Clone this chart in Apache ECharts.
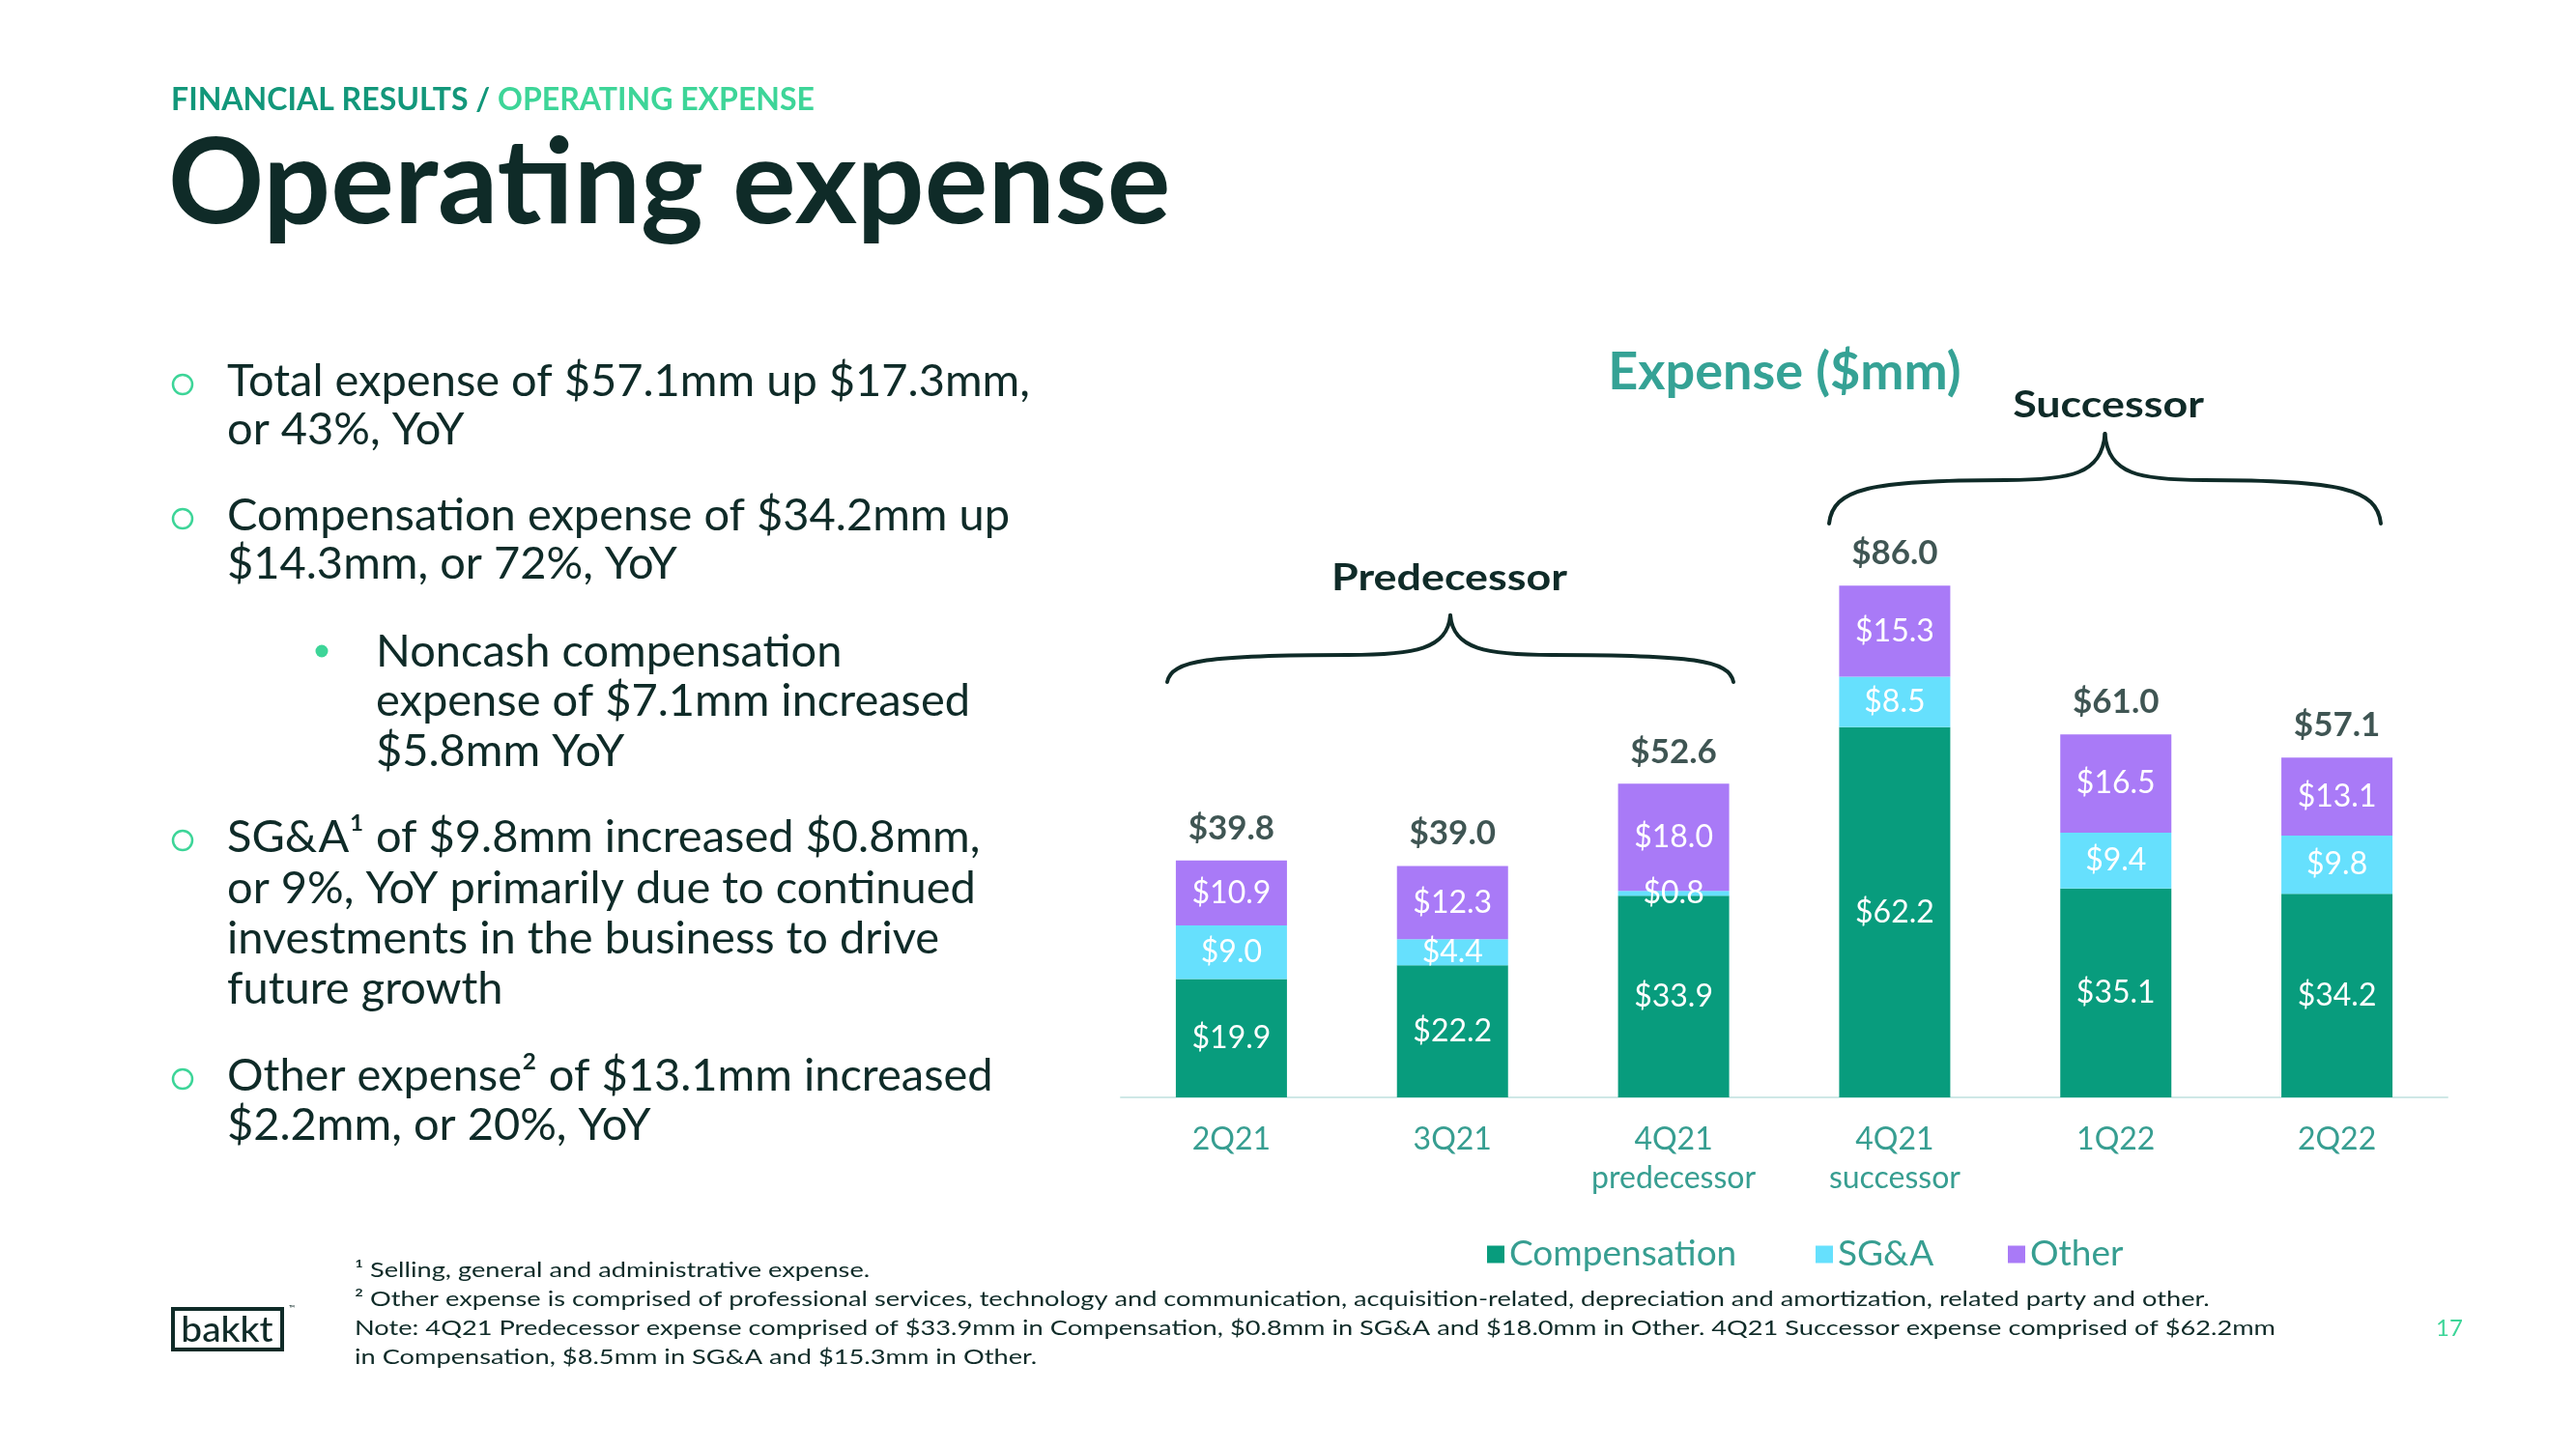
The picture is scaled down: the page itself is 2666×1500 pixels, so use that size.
<!DOCTYPE html>
<html><head><meta charset="utf-8">
<script src="https://cdn.jsdelivr.net/npm/echarts@6/dist/echarts.min.js"></script>
<style>html,body{margin:0;padding:0;background:#fff;}#c{width:2666px;height:1500px;}</style>
</head><body><div id="c"></div>
<script>
// ---- data ----
const categories = ["2Q21", "3Q21", "4Q21\npredecessor", "4Q21\nsuccessor", "1Q22", "2Q22"];
const compensation = [19.9, 22.2, 33.9, 62.2, 35.1, 34.2];
const sga = [9.0, 4.4, 0.8, 8.5, 9.4, 9.8];
const other = [10.9, 12.3, 18.0, 15.3, 16.5, 13.1];
const totals = [39.8, 39.0, 52.6, 86.0, 61.0, 57.1];
const seriesNames = ["Compensation", "SG&A", "Other"];

const breadcrumbA = "FINANCIAL RESULTS /";
const breadcrumbB = "OPERATING EXPENSE";
const pageTitle = "Operating expense";
const chartTitle = "Expense ($mm)";
const groupA = "Predecessor";
const groupB = "Successor";
const bullets = [
  { level: 1, lines: ["Total expense of $57.1mm up $17.3mm,", "or 43%, YoY"] },
  { level: 1, lines: ["Compensation expense of $34.2mm up", "$14.3mm, or 72%, YoY"] },
  { level: 2, lines: ["Noncash compensation", "expense of $7.1mm increased", "$5.8mm YoY"] },
  { level: 1, lines: ["SG&A\u00B9 of $9.8mm increased $0.8mm,", "or 9%, YoY primarily due to continued", "investments in the business to drive", "future growth"] },
  { level: 1, lines: ["Other expense\u00B2 of $13.1mm increased", "$2.2mm, or 20%, YoY"] }
];
const footnotes = [
  "\u00B9 Selling, general and administrative expense.",
  "\u00B2 Other expense is comprised of professional services, technology and communication, acquisition-related, depreciation and amortization, related party and other.",
  "Note: 4Q21 Predecessor expense comprised of $33.9mm in Compensation, $0.8mm in SG&A and $18.0mm in Other. 4Q21 Successor expense comprised of $62.2mm",
  "in Compensation, $8.5mm in SG&A and $15.3mm in Other."
];
const pageNumber = "17";
const logoText = "bakkt";

// ---- style ----
const DARK = '#0f2b28';
const TEAL = '#379e91';
const LIGHTGREEN = '#3dd598';
const DARKGREEN = '#12977a';
const COLORS = ['#089c7d', '#66e0fd', '#a97af7'];
const FF = 'Lato, "Noto Sans", sans-serif';

function T(x, baseline, text, size, o) {
  o = o || {};
  const el = {
    type: 'text', x: x, y: baseline - 0.32 * size, silent: true,
    style: {
      text: text,
      font: (o.weight || 'normal') + ' ' + size + 'px ' + FF,
      fill: o.fill || DARK,
      textAlign: o.align || 'left', align: o.align || 'left',
      textVerticalAlign: 'middle', verticalAlign: 'middle'
    }
  };
  if (o.scaleX) { el.scaleX = o.scaleX; }
  return el;
}
function measure(text, font) {
  const c = document.createElement('canvas').getContext('2d');
  c.font = font; return c.measureText(text).width;
}
// brace drawn as four cubic bezier pieces
function brace(x0, x1, yEnd, yFlat, yPeak) {
  const xm = (x0 + x1) / 2, w = (x1 - x0);
  const q = w * 0.18;
  const segs = [
    [x0, yEnd, x0 + 4, yFlat + (yEnd - yFlat) * 0.2, x0 + q * 0.4, yFlat, xm - q, yFlat],
    [xm - q, yFlat, xm - q * 0.35, yFlat, xm - 3, yFlat - 6, xm, yPeak],
    [xm, yPeak, xm + 3, yFlat - 6, xm + q * 0.35, yFlat, xm + q, yFlat],
    [xm + q, yFlat, x1 - q * 0.4, yFlat, x1 - 4, yFlat + (yEnd - yFlat) * 0.2, x1, yEnd]
  ];
  return segs.map(s => ({
    type: 'bezierCurve', silent: true,
    shape: { x1: s[0], y1: s[1], cpx1: s[2], cpy1: s[3], cpx2: s[4], cpy2: s[5], x2: s[6], y2: s[7] },
    style: { fill: null, stroke: DARK, lineWidth: 4, lineCap: 'round' }
  }));
}

const g = [];
// header: breadcrumb fitted to reference width
const BCFS = 33;
const bcFont = 'bold ' + BCFS + 'px ' + FF;
const bcScale = 666 / measure(breadcrumbA + ' ' + breadcrumbB, bcFont);
g.push(T(177, 114, breadcrumbA, BCFS, { weight: 'bold', fill: DARKGREEN, scaleX: bcScale }));
g.push(T(177 + measure(breadcrumbA + ' ', bcFont) * bcScale, 114, breadcrumbB, BCFS, { weight: 'bold', fill: LIGHTGREEN, scaleX: bcScale }));
g.push(T(174, 231, pageTitle, 123, { weight: 'bold' }));

// bullets
const baselines = [[410, 460], [549, 599], [690, 741, 793], [882, 935, 987, 1039], [1129, 1180]];
const BFS = 47;
bullets.forEach((b, i) => {
  const bl = baselines[i];
  const tx = b.level === 1 ? 235 : 389;
  if (b.level === 1) {
    g.push({ type: 'circle', silent: true, shape: { cx: 189, cy: bl[0] - 12, r: 10 }, style: { fill: null, stroke: LIGHTGREEN, lineWidth: 2.5 } });
  } else {
    g.push({ type: 'circle', silent: true, shape: { cx: 333, cy: bl[0] - 16, r: 6.5 }, style: { fill: LIGHTGREEN } });
  }
  b.lines.forEach((ln, j) => g.push(T(tx, bl[j], ln, BFS)));
});

// chart title and group labels
g.push(T(1847, 403, chartTitle, 54, { weight: 'bold', fill: '#35a295', align: 'center' }));
g.push(T(1500, 611, groupA, 38, { weight: 'bold', align: 'center', scaleX: 1.18 }));
g.push(T(2182, 432, groupB, 38, { weight: 'bold', align: 'center', scaleX: 1.18 }));
brace(1208, 1794, 706, 678, 637).forEach(e => g.push(e));
brace(1893, 2464, 542, 497, 449).forEach(e => g.push(e));

// footnotes (width fitted to reference line length)
const FNFS = 22;
const fnScale = 1988 / measure(footnotes[2], 'normal ' + FNFS + 'px ' + FF);
const fnBase = [1322, 1352, 1382, 1412];
footnotes.forEach((f, i) => g.push(T(367, fnBase[i], f, FNFS, { scaleX: fnScale })));
g.push(T(2535, 1383, pageNumber, 24, { fill: LIGHTGREEN, align: 'center' }));
// logo
g.push({ type: 'rect', silent: true, shape: { x: 179, y: 1355, width: 113, height: 42 }, style: { fill: null, stroke: DARK, lineWidth: 4 } });
g.push(T(235, 1389, logoText, 37, { align: 'center', weight: '500', scaleX: 1.05 }));
g.push(T(299, 1357, '\u2122', 8, { align: 'left' }));

const chart = echarts.init(document.getElementById('c'), null, { renderer: 'canvas' });
function barSeries(name, data, color) {
  return {
    name: name, type: 'bar', stack: 'total', data: data, barWidth: 115,
    itemStyle: { color: color },
    label: { show: true, position: 'inside', color: '#fff', fontFamily: FF, fontSize: 32, formatter: p => '$' + Number(p.value).toFixed(1) },
    emphasis: { disabled: true }
  };
}
function legendAt(name, left) {
  return {
    data: [name], left: left, top: 1280, padding: 0, itemGap: 0, itemWidth: 18, itemHeight: 18, icon: 'rect',
    selectedMode: false, textStyle: { color: TEAL, fontSize: 37, fontFamily: FF }
  };
}
chart.setOption({
  animation: false,
  backgroundColor: '#ffffff',
  grid: { left: 1160, right: 133, top: 520, bottom: 364 },
  legend: [legendAt(seriesNames[0], 1539), legendAt(seriesNames[1], 1879), legendAt(seriesNames[2], 2078)],
  xAxis: {
    type: 'category', data: categories,
    axisLine: { lineStyle: { color: '#cfe8e6', width: 2 } },
    axisTick: { show: false },
    axisLabel: { color: TEAL, fontSize: 32, fontFamily: FF, lineHeight: 40, margin: 24 }
  },
  yAxis: { type: 'value', min: 0, max: 100, show: false, splitLine: { show: false } },
  series: [
    barSeries(seriesNames[0], compensation, COLORS[0]),
    barSeries(seriesNames[1], sga, COLORS[1]),
    barSeries(seriesNames[2], other, COLORS[2]),
    {
      name: 'Total', type: 'scatter', data: totals, symbolSize: 0, silent: true,
      label: { show: true, position: 'top', distance: 16, color: DARK, fontWeight: 'bold', fontSize: 35, fontFamily: FF, formatter: p => '$' + Number(p.value).toFixed(1) }
    }
  ],
  graphic: { elements: g }
});
</script>
</body></html>
